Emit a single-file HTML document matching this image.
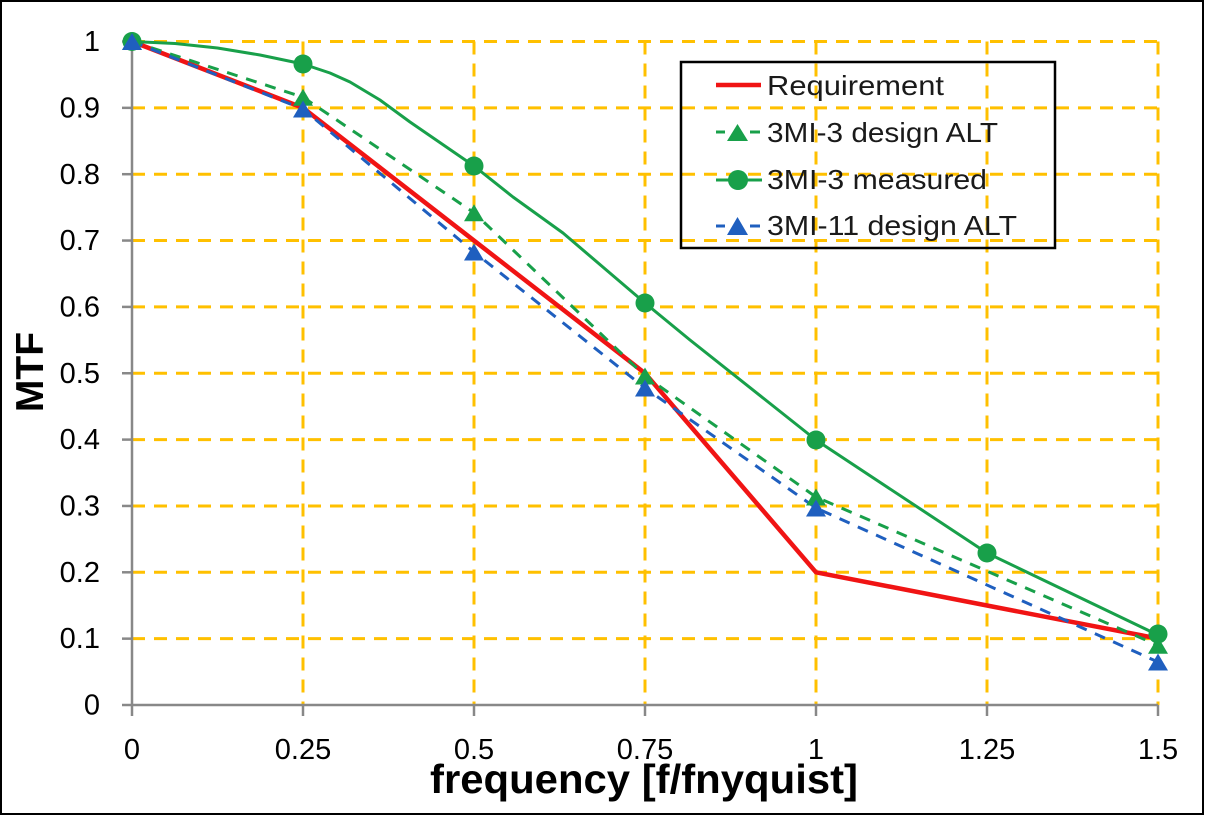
<!DOCTYPE html>
<html>
<head>
<meta charset="utf-8">
<style>
html,body{margin:0;padding:0;background:#fff;}
svg{display:block;}
text{font-family:"Liberation Sans",Arial,sans-serif;}
</style>
</head>
<body>
<svg width="1207" height="817" viewBox="0 0 1207 817" xmlns="http://www.w3.org/2000/svg">
<rect x="0" y="0" width="1207" height="817" fill="#fff"/>
<rect x="1" y="1" width="1202" height="813" fill="none" stroke="#000" stroke-width="2"/>

<!-- gridlines -->
<g stroke="#FFC000" stroke-width="3" stroke-dasharray="13,9" fill="none">
  <line x1="132" y1="41.5" x2="1158" y2="41.5"/>
  <line x1="132" y1="107.85" x2="1158" y2="107.85"/>
  <line x1="132" y1="174.2" x2="1158" y2="174.2"/>
  <line x1="132" y1="240.55" x2="1158" y2="240.55"/>
  <line x1="132" y1="306.9" x2="1158" y2="306.9"/>
  <line x1="132" y1="373.25" x2="1158" y2="373.25"/>
  <line x1="132" y1="439.6" x2="1158" y2="439.6"/>
  <line x1="132" y1="505.95" x2="1158" y2="505.95"/>
  <line x1="132" y1="572.3" x2="1158" y2="572.3"/>
  <line x1="132" y1="638.65" x2="1158" y2="638.65"/>
  <line x1="303" y1="41.5" x2="303" y2="705"/>
  <line x1="474" y1="41.5" x2="474" y2="705"/>
  <line x1="645" y1="41.5" x2="645" y2="705"/>
  <line x1="816" y1="41.5" x2="816" y2="705"/>
  <line x1="987" y1="41.5" x2="987" y2="705"/>
  <line x1="1158" y1="41.5" x2="1158" y2="705"/>
</g>

<!-- axes -->
<g stroke="#888" stroke-width="2.5" fill="none">
  <line x1="132" y1="41" x2="132" y2="706"/>
  <line x1="131" y1="705" x2="1158" y2="705"/>
  <line x1="122" y1="41.5" x2="132" y2="41.5"/>
  <line x1="122" y1="107.85" x2="132" y2="107.85"/>
  <line x1="122" y1="174.2" x2="132" y2="174.2"/>
  <line x1="122" y1="240.55" x2="132" y2="240.55"/>
  <line x1="122" y1="306.9" x2="132" y2="306.9"/>
  <line x1="122" y1="373.25" x2="132" y2="373.25"/>
  <line x1="122" y1="439.6" x2="132" y2="439.6"/>
  <line x1="122" y1="505.95" x2="132" y2="505.95"/>
  <line x1="122" y1="572.3" x2="132" y2="572.3"/>
  <line x1="122" y1="638.65" x2="132" y2="638.65"/>
  <line x1="122" y1="705" x2="132" y2="705"/>
  <line x1="132" y1="705" x2="132" y2="716"/>
  <line x1="303" y1="705" x2="303" y2="716"/>
  <line x1="474" y1="705" x2="474" y2="716"/>
  <line x1="645" y1="705" x2="645" y2="716"/>
  <line x1="816" y1="705" x2="816" y2="716"/>
  <line x1="987" y1="705" x2="987" y2="716"/>
  <line x1="1158" y1="705" x2="1158" y2="716"/>
</g>

<!-- y tick labels -->
<g font-size="29" fill="#000" text-anchor="end">
  <text x="100" y="51">1</text>
  <text x="100" y="117.5">0.9</text>
  <text x="100" y="183.8">0.8</text>
  <text x="100" y="250.1">0.7</text>
  <text x="100" y="316.5">0.6</text>
  <text x="100" y="382.8">0.5</text>
  <text x="100" y="449.2">0.4</text>
  <text x="100" y="515.5">0.3</text>
  <text x="100" y="581.9">0.2</text>
  <text x="100" y="648.2">0.1</text>
  <text x="100" y="714.6">0</text>
</g>
<!-- x tick labels -->
<g font-size="29" fill="#000" text-anchor="middle">
  <text x="132" y="759">0</text>
  <text x="303" y="759">0.25</text>
  <text x="474" y="759">0.5</text>
  <text x="645" y="759">0.75</text>
  <text x="816" y="759">1</text>
  <text x="987" y="759">1.25</text>
  <text x="1158" y="759">1.5</text>
</g>

<!-- axis titles -->
<text x="430" y="793" font-size="41" font-weight="bold" fill="#000" textLength="428" lengthAdjust="spacingAndGlyphs">frequency [f/fnyquist]</text>
<text transform="translate(43,372) rotate(-90)" x="0" y="0" font-size="39" font-weight="bold" fill="#000" text-anchor="middle">MTF</text>

<!-- Requirement -->
<polyline fill="none" stroke="#F01414" stroke-width="4.5" stroke-linejoin="round" stroke-linecap="round"
  points="132,41.5 303,107.85 474,240.55 645,373.25 816,572.3 987,605.5 1150,637"/>

<!-- 3MI-3 design ALT -->
<polyline fill="none" stroke="#18A04A" stroke-width="3" stroke-dasharray="11,9" stroke-linejoin="round"
  points="132,41.5 303,97.2 474,212.7 645,376 816,497 1158,645.3"/>

<!-- 3MI-3 measured -->
<polyline fill="none" stroke="#18A04A" stroke-width="3" stroke-linejoin="round"
  points="132,41.5 175,43.5 217.5,48 260,55 303,64 330,73 350,82 380,100 410,122 474,166 513,197 563,233 645,303 690,340 816,440 987,553 1158,635"/>

<!-- 3MI-11 design ALT -->
<polyline fill="none" stroke="#1F5FBF" stroke-width="3" stroke-dasharray="11,9" stroke-linejoin="round"
  points="132,41.5 303,109 474,252 645,388 816,508 1158,662"/>

<!-- markers: 3MI-3 design ALT -->
<g fill="#18A04A">
  <polygon points="122,50 142,50 132,33"/>
  <polygon points="293,105.7 313,105.7 303,88.7"/>
  <polygon points="464,221.2 484,221.2 474,204.2"/>
  <polygon points="635,384.5 655,384.5 645,367.5"/>
  <polygon points="806,505.5 826,505.5 816,488.5"/>
  <polygon points="1148,653.8 1168,653.8 1158,636.8"/>
</g>
<!-- markers: measured -->
<g fill="#18A04A">
  <circle cx="132" cy="41.5" r="9.5"/>
  <circle cx="303" cy="64" r="9.5"/>
  <circle cx="474" cy="166" r="9.5"/>
  <circle cx="645" cy="303" r="9.5"/>
  <circle cx="816" cy="440" r="9.5"/>
  <circle cx="987" cy="553" r="9.5"/>
  <circle cx="1158" cy="634" r="9.5"/>
</g>
<!-- markers: 3MI-11 -->
<g fill="#1F5FBF">
  <polygon points="122,50 142,50 132,33"/>
  <polygon points="293,117.5 313,117.5 303,100.5"/>
  <polygon points="464,260.5 484,260.5 474,243.5"/>
  <polygon points="635,396.5 655,396.5 645,379.5"/>
  <polygon points="806,516.5 826,516.5 816,499.5"/>
  <polygon points="1148,670.5 1168,670.5 1158,653.5"/>
</g>

<!-- legend -->
<rect x="681" y="62" width="374" height="186" fill="none" stroke="#000" stroke-width="2.5"/>
<line x1="716" y1="85" x2="761" y2="85" stroke="#F01414" stroke-width="4.5"/>
<line x1="716" y1="132" x2="760" y2="132" stroke="#18A04A" stroke-width="3" stroke-dasharray="9,26"/>
<line x1="750" y1="132" x2="760" y2="132" stroke="#18A04A" stroke-width="3"/>
<polygon points="727,141 748,141 737.5,124" fill="#18A04A"/>
<line x1="716" y1="180" x2="762" y2="180" stroke="#18A04A" stroke-width="3"/>
<circle cx="738" cy="180" r="10" fill="#18A04A"/>
<line x1="716" y1="226" x2="725" y2="226" stroke="#1F5FBF" stroke-width="3"/>
<line x1="750" y1="226" x2="760" y2="226" stroke="#1F5FBF" stroke-width="3"/>
<polygon points="727,235 748,235 737.5,217" fill="#1F5FBF"/>
<g font-size="28" fill="#1a1a1a">
  <text x="767" y="95" textLength="177" lengthAdjust="spacingAndGlyphs">Requirement</text>
  <text x="767" y="142" textLength="231" lengthAdjust="spacingAndGlyphs">3MI-3 design ALT</text>
  <text x="767" y="189" textLength="220" lengthAdjust="spacingAndGlyphs">3MI-3 measured</text>
  <text x="767" y="235" textLength="250" lengthAdjust="spacingAndGlyphs">3MI-11 design ALT</text>
</g>
</svg>
</body>
</html>
